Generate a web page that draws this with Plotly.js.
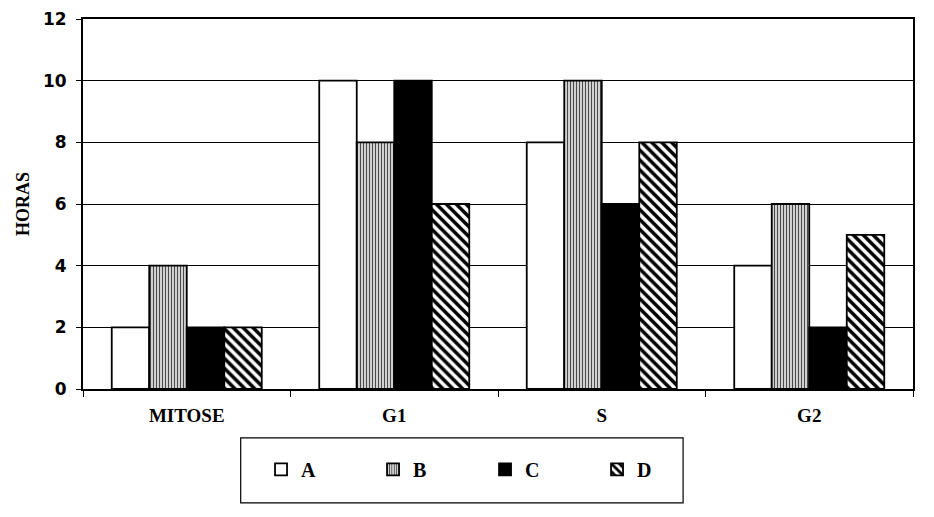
<!DOCTYPE html>
<html>
<head>
<meta charset="utf-8">
<script src="https://cdn.plot.ly/plotly-3.0.1.min.js"></script>
<style>
  html, body { margin: 0; padding: 0; background: #fff; }
  #chart { width: 934px; height: 517px; }
</style>
</head>
<body>
<div id="chart"></div>
<script>
// cell cycle phases and hours per cell line
const phases = ['MITOSE', 'G1', 'S', 'G2'];
const seriesNames = ['A', 'B', 'C', 'D'];
const hoursA = [2, 10, 8, 4];
const hoursB = [4, 8, 10, 6];
const hoursC = [2, 10, 6, 2];
const hoursD = [2, 6, 8, 5];
const yTicks = [0, 2, 4, 6, 8, 10, 12];

const serif = 'Liberation Serif';
const sans = 'DejaVu Sans';

// fill style per series (plain white, grey texture, solid black, diagonal stripes)
const fills = [
    { color: '#ffffff', pattern: { shape: '' } },
    { color: '#e0e0e0', pattern: { shape: '|', size: 3, solidity: 0.4, fgcolor: '#4a4a4a', bgcolor: '#e0e0e0', fillmode: 'replace' } },
    { color: '#000000', pattern: { shape: '' } },
    { color: '#ffffff', pattern: { shape: '\\', size: 7, solidity: 0.5, fgcolor: '#000000', bgcolor: '#ffffff', fillmode: 'replace' } }
];

const allHours = [hoursA, hoursB, hoursC, hoursD];

const data = seriesNames.map((name, i) => ({
    type: 'bar',
    name: name,
    x: phases,
    y: allHours[i],
    marker: {
        color: fills[i].color,
        pattern: fills[i].pattern,
        line: { color: '#000000', width: 1.8 }
    },
    hoverinfo: 'x+y+name'
}));

const layout = {
    width: 934,
    height: 517,
    paper_bgcolor: '#ffffff',
    plot_bgcolor: '#ffffff',
    margin: { l: 83, r: 21, t: 19, b: 128 },
    barmode: 'group',
    bargap: 0.277,
    bargroupgap: 0,
    showlegend: true,
    legend: {
        orientation: 'h',
        x: 0.2145,
        xanchor: 'left',
        y: -0.217,
        yanchor: 'middle',
        entrywidth: 67,
        entrywidthmode: 'pixels',
        font: { family: serif, size: 20, color: '#000', weight: 'bold' },
        borderwidth: 0,
        bgcolor: 'rgba(0,0,0,0)',
        itemclick: false
    },
    xaxis: {
        type: 'category',
        tickson: 'boundaries',
        ticks: 'outside',
        ticklen: 6,
        tickcolor: '#000',
        ticklabelstandoff: 8,
        showline: true,
        linecolor: '#000',
        linewidth: 2,
        mirror: true,
        showgrid: false,
        tickfont: { family: serif, size: 19, color: '#000', weight: 'bold' }
    },
    yaxis: {
        range: [0, 12],
        tickvals: yTicks,
        ticks: 'outside',
        ticklen: 5,
        tickcolor: '#000',
        ticklabelstandoff: 6,
        showline: true,
        linecolor: '#000',
        linewidth: 2,
        mirror: true,
        gridcolor: '#000',
        gridwidth: 1,
        zeroline: false,
        tickfont: { family: sans, size: 17, color: '#000', weight: 'bold' },
        title: { text: 'HORAS', font: { family: serif, size: 18, color: '#000', weight: 'bold' }, standoff: 9 }
    },
    shapes: [{
        type: 'rect',
        xref: 'paper', yref: 'paper',
        x0: 0.19, x1: 0.723,
        y0: -0.308, y1: -0.132,
        line: { color: '#000', width: 1.2 },
        fillcolor: 'rgba(0,0,0,0)'
    }]
};

Plotly.newPlot('chart', data, layout, { displayModeBar: false, staticPlot: true });
</script>
</body>
</html>
